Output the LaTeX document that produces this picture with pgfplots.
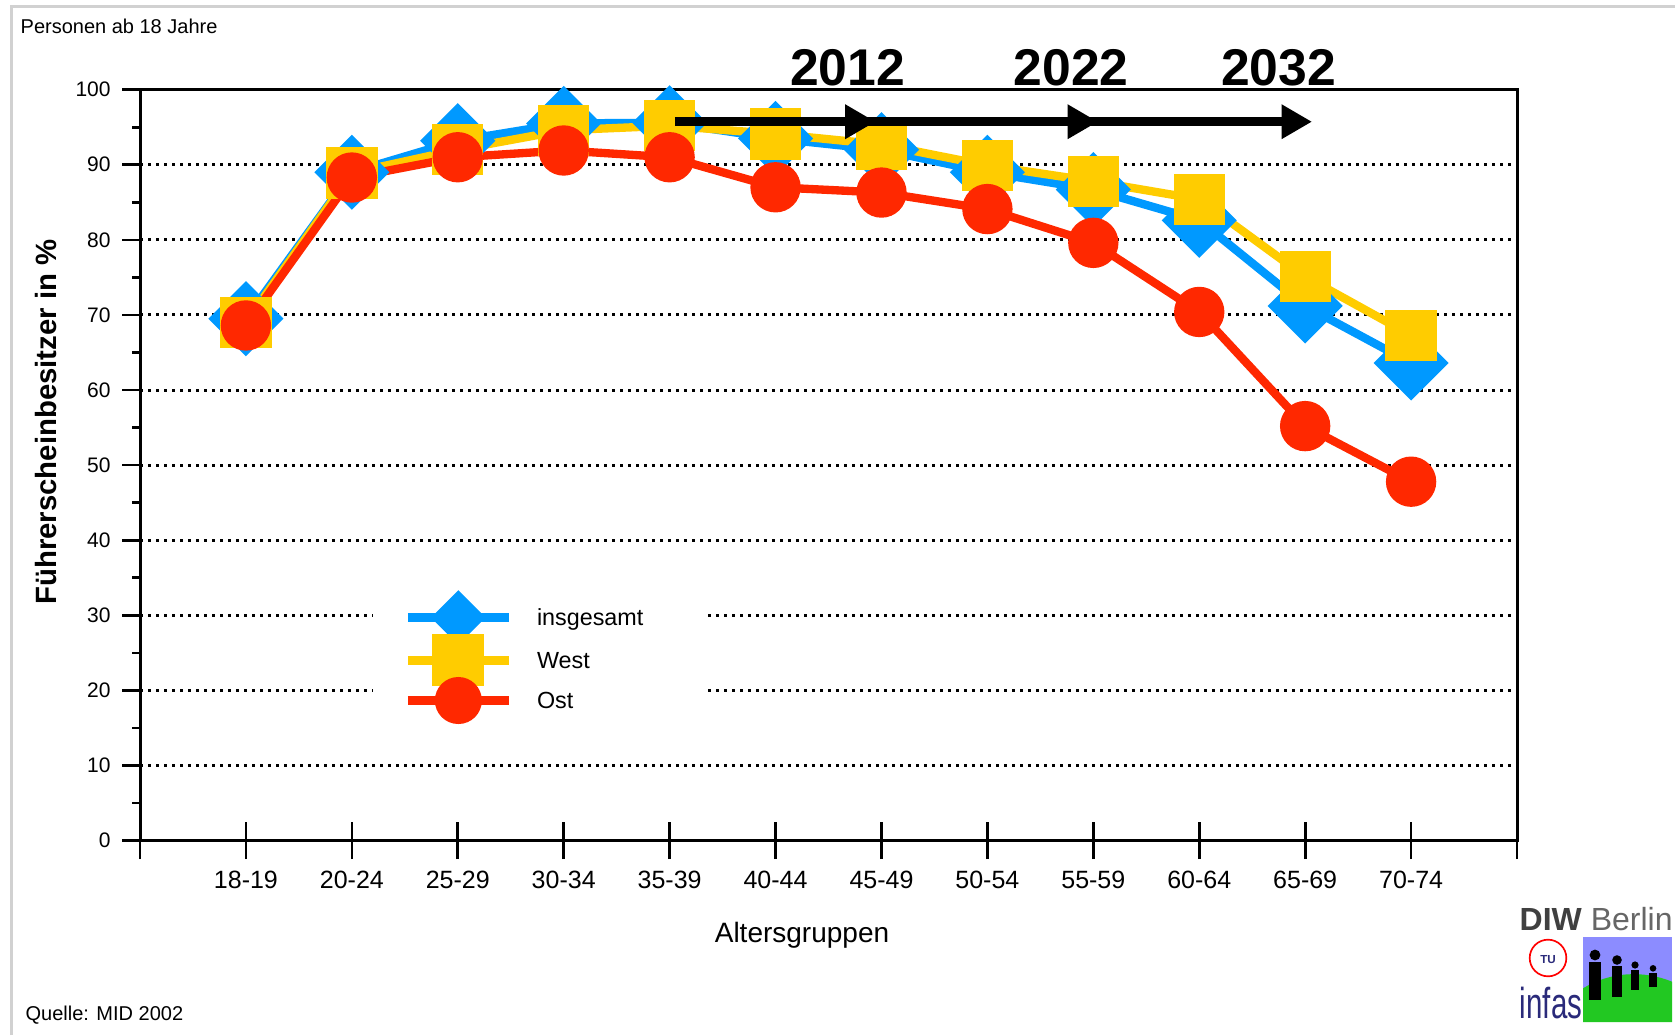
\documentclass[border=0pt]{standalone}
\usepackage{pgfplots}
\pgfplotsset{compat=1.18}
\usepackage{fontspec}
\setmainfont{Liberation Sans}
\definecolor{insg}{RGB}{0,153,255}
\definecolor{west}{RGB}{255,204,0}
\definecolor{ost}{RGB}{255,40,0}
\definecolor{logopurple}{RGB}{140,140,255}
\definecolor{logogreen}{RGB}{34,200,34}
\definecolor{navy}{RGB}{42,42,122}

\begin{document}
\begin{tikzpicture}
\path[use as bounding box] (0,0) rectangle (502.5pt,310.5pt);
\draw[black!18, line width=0.9pt] (3.5pt,0pt) -- (3.5pt,308.5pt) -- (502.5pt,308.5pt);

\begin{axis}[
  at={(42pt,58.3pt)}, anchor=south west,
  width=413.1pt, height=225.3pt, scale only axis,
  xmin=0, xmax=13, ymin=0, ymax=100,
  clip=false,
  tick pos=left,
  xtick=\empty,
  extra x ticks={0,...,13},
  extra x tick labels={{},18-19,20-24,25-29,30-34,35-39,40-44,45-49,50-54,55-59,60-64,65-69,70-74,{}},
  extra x tick style={tick pos=left, tick align=center, major tick length=11.1pt, xmajorgrids=false},
  ytick={0,10,...,100},
  minor y tick num=1,
  tick align=outside,
  major tick length=5.3pt, minor tick length=2.4pt,
  ymajorgrids,
  major grid style={black, line width=0.9pt, dash pattern=on 0.9pt off 1.5pt},
  axis line style={line width=0.9pt},
  tick style={black, line width=0.8pt},
  yticklabel style={font=\fontsize{6.3}{7}\selectfont},
  xticklabel style={font=\fontsize{7.5}{9}\selectfont},
  /pgf/number format/assume math mode=true,
  legend image code/.code={\draw[#1, mark repeat=2, mark phase=2] plot coordinates {(0pt,0pt) (15.15pt,0pt) (30.3pt,0pt)};},
  legend style={draw=none, fill=none, at={(axis cs:2.48,32.6)}, anchor=north west,
    inner sep=0pt, row sep=0pt, column sep=7.1pt,
    nodes={inner sep=0pt, text depth=0pt}, font=\fontsize{7}{8}\selectfont},
  legend cell align=left,
]
% white patch behind the legend, interrupting the grid
\fill[white] (axis cs:2.2,33.3) rectangle (axis cs:5.33,15.4);

% insgesamt
\addplot[insg, line width=2.5pt, mark=diamond*, mark size=9.5pt,
  mark options={fill=insg, draw=none, xscale=1.333}, forget plot] coordinates {
  (1,69.5) (2,89.0) (3,93.2) (4,95.5) (5,95.6) (6,93.5)
  (7,92.0) (8,89.0) (9,86.7) (10,82.6) (11,71.2) (12,63.6)};
% West
\addplot[west, line width=2.5pt, mark=square*, mark size=6.45pt,
  mark options={fill=west, draw=none}, forget plot] coordinates {
  (1,69.0) (2,88.9) (3,92.0) (4,94.6) (5,95.2) (6,94.1)
  (7,92.7) (8,89.9) (9,87.8) (10,85.4) (11,75.1) (12,67.3)};
% Ost
\addplot[ost, line width=2.5pt, mark=*, mark size=6.3pt,
  mark options={fill=ost, draw=none}, forget plot] coordinates {
  (1,68.6) (2,88.3) (3,91.0) (4,91.9) (5,91.0) (6,87.0)
  (7,86.3) (8,84.1) (9,79.6) (10,70.4) (11,55.2) (12,47.8)};

\addlegendimage{insg, line width=2.7pt, mark=diamond*, mark size=6.3pt, mark options={fill=insg, draw=none, xscale=1.333}}
\addlegendentry{insgesamt}
\addlegendimage{west, line width=2.7pt, mark=square*, mark size=6.45pt, mark options={fill=west, draw=none}}
\addlegendentry{West}
\addlegendimage{ost, line width=2.7pt, mark=*, mark size=5.7pt, mark options={fill=ost, draw=none}}
\addlegendentry{Ost}

% anchor points for the time arrow (drawn after the axis, on top)
\coordinate (arrstart) at (axis cs:5.05,95.73);
\coordinate (arrend) at (axis cs:10.8,95.73);
\coordinate (tipA) at (axis cs:6.94,95.73);
\coordinate (tipB) at (axis cs:9.04,95.73);
\coordinate (tipC) at (axis cs:11.06,95.73);
\coordinate (yrA) at (axis cs:6.68,100.56);
\coordinate (yrB) at (axis cs:8.79,100.56);
\coordinate (yrC) at (axis cs:10.75,100.56);
\end{axis}

% time arrow
\draw[line width=2.8pt] (arrstart) -- (arrend);
\foreach \t in {tipA,tipB,tipC}{
  \fill (\t) -- ++(-9pt,5.25pt) -- ++(0pt,-10.5pt) -- cycle;
}
\node[anchor=base, inner sep=0pt, font=\bfseries\fontsize{15.5}{18}\selectfont] at (yrA) {2012};
\node[anchor=base, inner sep=0pt, font=\bfseries\fontsize{15.5}{18}\selectfont] at (yrB) {2022};
\node[anchor=base, inner sep=0pt, font=\bfseries\fontsize{15.5}{18}\selectfont] at (yrC) {2032};

% texts around the plot
\node[anchor=west, inner sep=0pt, font=\fontsize{6}{7}\selectfont] at (6pt,302.7pt) {Personen ab 18 Jahre};
\node[rotate=90, inner sep=0pt, font=\bfseries\fontsize{8.8}{10}\selectfont] at (13.8pt,183.9pt) {Führerscheinbesitzer in \%};
\node[inner sep=0pt, font=\fontsize{8.4}{10}\selectfont] at (240.6pt,30pt) {Altersgruppen};
\node[anchor=west, inner sep=0pt, font=\fontsize{6}{7}\selectfont] at (7.5pt,6pt) {Quelle: MID 2002};

% logos
\node[anchor=west, inner sep=0pt, font=\fontsize{9.6}{11}\selectfont] at (455.7pt,34.8pt)
  {\textcolor{black!75}{\textbf{DIW}} \textcolor{black!60}{Berlin}};
\fill[logopurple] (474.9pt,3.9pt) rectangle (501.6pt,29.4pt);
\fill[logogreen] (474.9pt,3.9pt) -- (474.9pt,14pt) .. controls (483pt,19pt) and (493pt,19.5pt) .. (501.6pt,16pt) -- (501.6pt,3.9pt) -- cycle;
\foreach \x/\h/\f/\w in {478.5/24/10.5/3.6, 485.1/22.5/11.4/3.2, 490.5/21/13.5/2.4, 495.9/20/14.4/2.2}{
  \fill[black] (\x pt,\h pt) circle (0.45*\w pt);
  \fill[black] (\x pt-0.5*\w pt,\h pt-0.6*\w pt) rectangle (\x pt+0.5*\w pt,\f pt);
}
\draw[red, line width=0.5pt] (464.4pt,23.1pt) circle (5.5pt);
\node[inner sep=0pt, text=navy, font=\bfseries\fontsize{3.5}{4}\selectfont] at (464.4pt,22.6pt) {TU};
\node[inner sep=0pt, text=navy, xscale=0.68, font=\fontsize{13}{14}\selectfont] at (465.3pt,9.5pt) {infas};
\end{tikzpicture}
\end{document}
